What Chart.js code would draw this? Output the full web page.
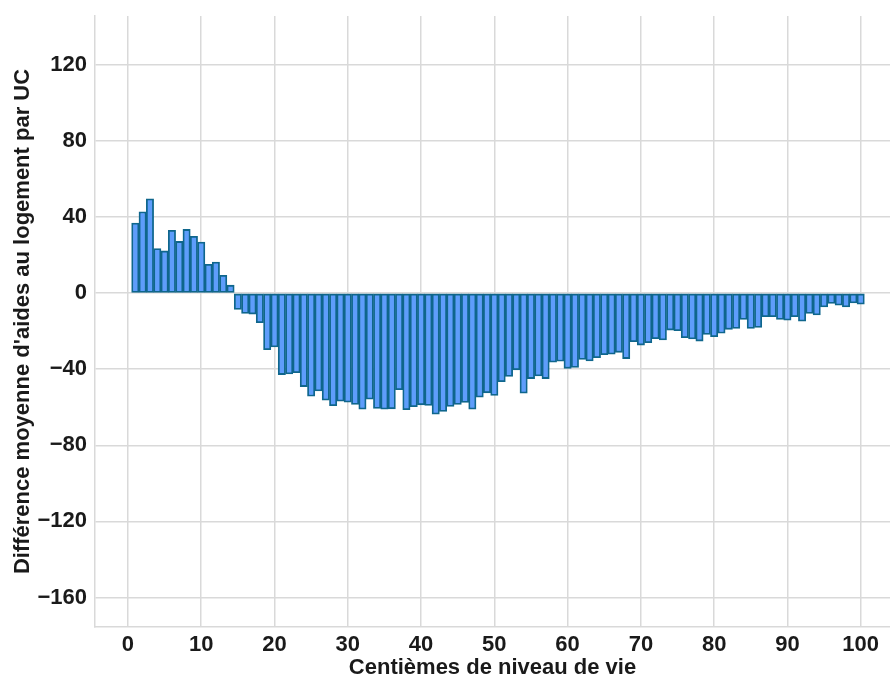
<!DOCTYPE html>
<html>
<head>
<meta charset="utf-8">
<script src="https://cdn.jsdelivr.net/npm/chart.js@4.4.0/dist/chart.umd.min.js"></script>
<style>
  html, body { margin: 0; padding: 0; background: #fff; }
  #wrap { width: 890px; height: 677px; }
</style>
</head>
<body>
<div id="wrap"><canvas id="grafico" width="890" height="677"></canvas></div>
<script>
// centiemes 1..100
var centiemes = [];
for (var i = 1; i <= 100; i++) centiemes.push(i);

var difference = [
  36.8, 42.8, 49.6, 23.4, 22.2, 33.0, 27.2, 33.5, 29.9, 26.9,
  15.2, 16.4, 9.4, 4.2, -8.6, -10.7, -11.0, -15.5, -29.7, -28.3,
  -42.8, -42.5, -41.8, -49.1, -54.2, -51.4, -56.3, -59.2, -56.8, -57.3,
  -58.5, -61.0, -55.7, -60.6, -61.0, -60.8, -50.8, -61.3, -59.7, -58.7,
  -59.0, -63.6, -62.2, -59.6, -58.5, -57.5, -61.0, -54.7, -52.4, -53.8,
  -46.5, -43.8, -40.3, -52.6, -44.9, -43.5, -44.9, -36.3, -35.8, -39.5,
  -39.1, -34.8, -35.6, -33.9, -32.3, -32.1, -31.1, -34.4, -25.5, -27.3,
  -26.0, -23.9, -24.6, -19.4, -19.7, -23.4, -24.1, -25.2, -21.7, -22.9,
  -21.1, -19.0, -18.5, -13.8, -18.5, -18.0, -12.4, -12.4, -13.8, -14.2,
  -12.4, -14.7, -10.7, -11.5, -7.2, -5.4, -6.3, -7.2, -5.1, -5.8
];

var ticksX = [0, 10, 20, 30, 40, 50, 60, 70, 80, 90, 100];
var ticksY = [-160, -120, -80, -40, 0, 40, 80, 120];

var points = centiemes.map(function (c, i) { return { x: c, y: difference[i] }; });

var police = { family: "'Liberation Sans', Arial, sans-serif", size: 22, weight: 'bold' };
var policeY = { family: "'Liberation Sans', Arial, sans-serif", size: 22, weight: 'bold', lineHeight: 0.5 };
var policeTitre = { family: "'Liberation Sans', Arial, sans-serif", size: 22, weight: 'bold', lineHeight: 0.8 };
var gris = '#d9d9d9';

new Chart(document.getElementById('grafico').getContext('2d'), {
  type: 'bar',
  data: {
    datasets: [{
      data: points,
      backgroundColor: '#5e9dfb',
      borderColor: '#0f668c',
      borderWidth: 1.8,
      barPercentage: 1,
      categoryPercentage: 1,
      borderSkipped: false
    }]
  },
  options: {
    responsive: false,
    animation: false,
    layout: { padding: { top: 16, right: 0, left: 0, bottom: 0 } },
    plugins: { legend: { display: false }, tooltip: { enabled: false } },
    scales: {
      x: {
        type: 'linear',
        offset: false,
        min: -4.5,
        max: 104,
        afterBuildTicks: function (scale) {
          scale.ticks = ticksX.map(function (v) { return { value: v }; });
        },
        afterFit: function (scale) { scale.height = 50; },
        grid: { color: gris, lineWidth: 1.5, drawTicks: false, offset: false },
        border: { color: gris, width: 1.5 },
        ticks: { color: '#1a1a1a', font: police, padding: 5, maxRotation: 0 },
        title: {
          display: true,
          text: 'Centièmes de niveau de vie',
          color: '#1a1a1a',
          font: policeTitre,
          padding: { top: 0, bottom: 0 }
        }
      },
      y: {
        type: 'linear',
        min: -175.5,
        max: 145.7,
        afterBuildTicks: function (scale) {
          scale.ticks = ticksY.map(function (v) { return { value: v }; });
        },
        afterFit: function (scale) { scale.width = 95; },
        grid: { color: gris, lineWidth: 1.5, drawTicks: false },
        border: { color: gris, width: 1.5 },
        ticks: {
          color: '#1a1a1a',
          font: policeY,
          padding: 8,
          callback: function (v) { return v < 0 ? '\u2212' + Math.abs(v) : String(v); }
        },
        title: {
          display: true,
          text: "Différence moyenne d'aides au logement par UC",
          color: '#1a1a1a',
          font: policeTitre,
          padding: { top: 14, bottom: 0 }
        }
      }
    }
  }
});
</script>
</body>
</html>
